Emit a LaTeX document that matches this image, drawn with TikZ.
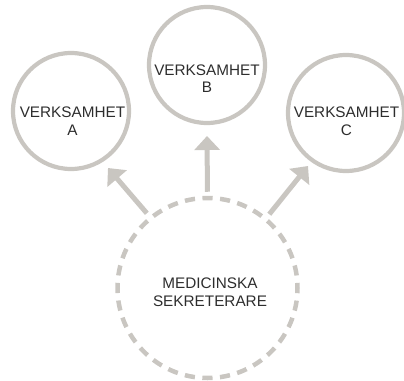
\documentclass[tikz,border=0pt]{standalone}
\usepackage{fontspec}
\setmainfont{Liberation Sans}
\usetikzlibrary{arrows.meta}
\definecolor{ringgray}{RGB}{201,198,193}
\definecolor{labelgray}{RGB}{45,45,45}
\begin{document}
\begin{tikzpicture}[x=1pt,y=-1pt,
  unit/.style={circle,draw=ringgray,line width=4.2pt,minimum size=116pt,inner sep=0pt},
  hub/.style={circle,draw=ringgray,line width=4.5pt,minimum size=180pt,inner sep=0pt,
    dash pattern=on 10.2pt off 7.47pt,dash phase=5.1pt},
  caption/.style={text=labelgray,align=center,inner sep=0pt,
    font=\fontsize{15.3pt}{17.6pt}\selectfont},
  conn/.style={draw=ringgray,line width=5pt,shorten <=4pt,
    -{Triangle[length=14pt,width=25pt]}}]
\useasboundingbox (0,0) rectangle (404,380);

% the three units and the central secretary pool
\node[unit] (a) at (71,111) {};
\node[unit] (b) at (207,65) {};
\node[unit] (c) at (346,113) {};
\node[hub]  (d) at (207.5,288) {};

\node[caption] (la) at (72.5,121) {VERKSAMHET\\A};
\node[caption] (lb) at (207,78.5) {VERKSAMHET\\B};
\node[caption] (lc) at (346.5,121) {VERKSAMHET\\C};
\node[caption] (ld) at (210,292.5) {MEDICINSKA\\SEKRETERARE};

% arrow tips
\coordinate (ta) at (108,168);
\coordinate (tb) at (207,136);
\coordinate (tc) at (308,166);

\draw[conn] (d.129) -- (ta);
\draw[conn] (d.90)  -- (tb);
\draw[conn] (d.50)  -- (tc);
\end{tikzpicture}
\end{document}
